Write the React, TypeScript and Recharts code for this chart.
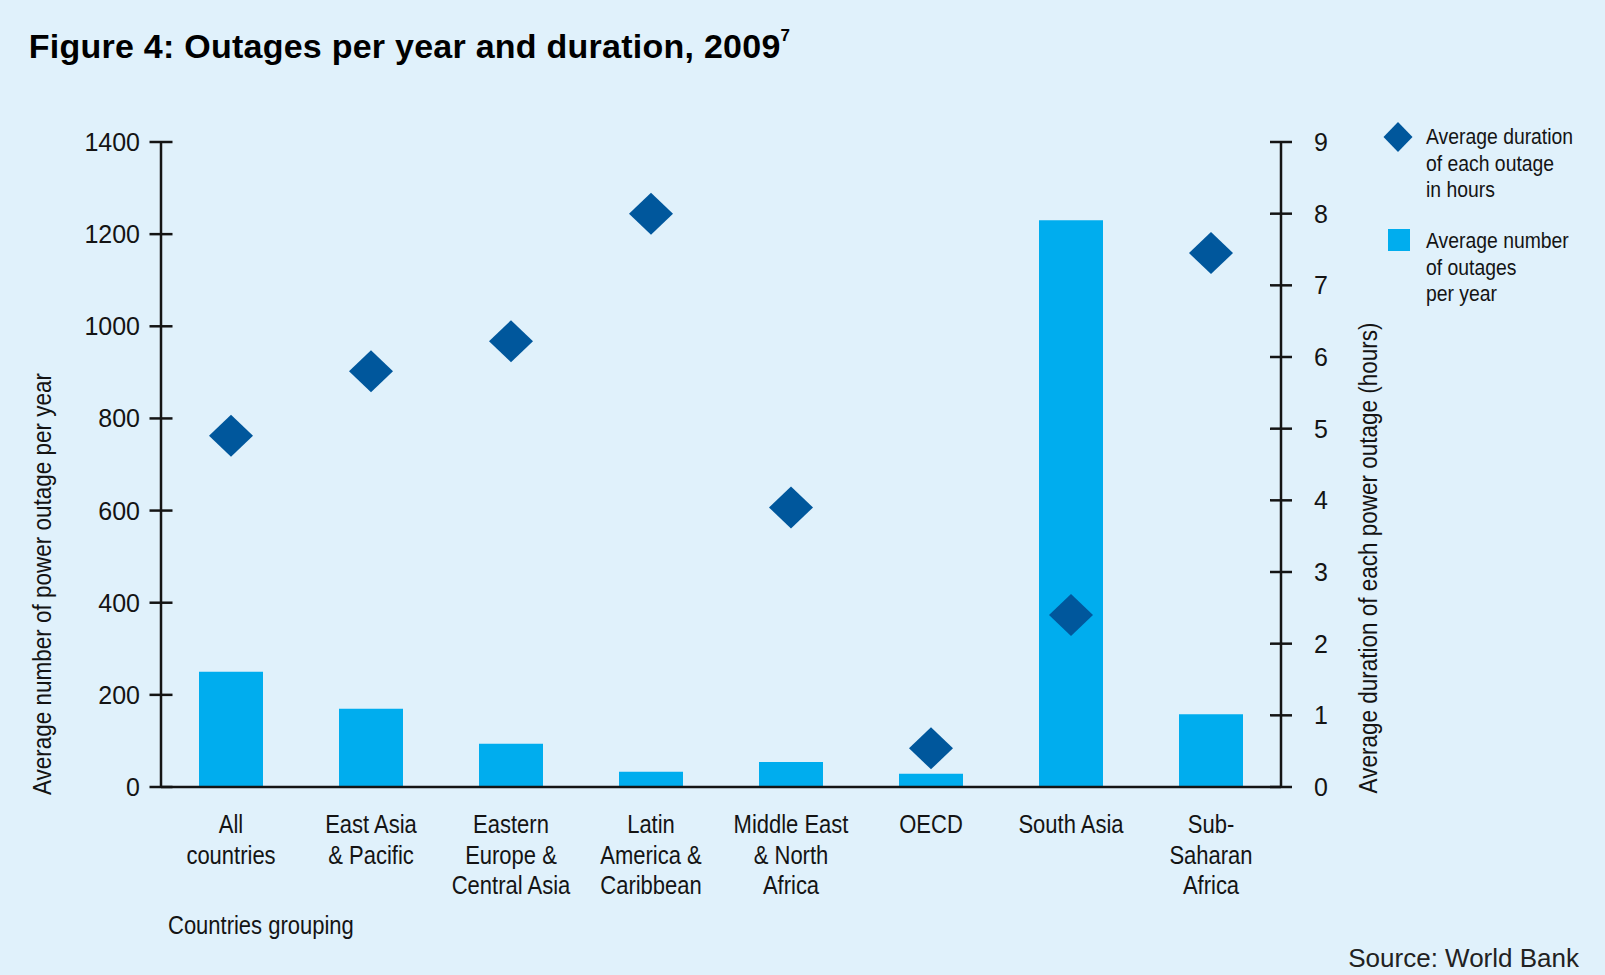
import React from 'react';
import { ComposedChart, Bar, Line, XAxis, YAxis } from 'recharts';

const categories = [
  'All\ncountries',
  'East Asia\n& Pacific',
  'Eastern\nEurope &\nCentral Asia',
  'Latin\nAmerica &\nCaribbean',
  'Middle East\n& North\nAfrica',
  'OECD',
  'South Asia',
  'Sub-\nSaharan\nAfrica',
];
const outagesPerYear = [250, 170, 94, 33, 54, 29, 1230, 158];
const durationHours = [4.9, 5.8, 6.22, 8.0, 3.9, 0.54, 2.4, 7.45];
const leftTicks = [0, 200, 400, 600, 800, 1000, 1200, 1400];
const rightTicks = [0, 1, 2, 3, 4, 5, 6, 7, 8, 9];
const legendDuration = ['Average duration', 'of each outage', 'in hours'];
const legendNumber = ['Average number', 'of outages', 'per year'];

const data = categories.map((c, i) => ({
  category: c,
  outages: outagesPerYear[i],
  duration: durationHours[i],
}));

const BG = '#E0F1FB';
const BAR = '#00ADEE';
const DIAMOND = '#00579C';
const INK = '#141414';
const FONT = "'Liberation Sans', Arial, Helvetica, sans-serif";

const NarrowText = ({ x, y, size, scale = 0.88, anchor = 'start', rotate = 0, children }: any) => (
  <text
    transform={`translate(${x},${y})${rotate ? ` rotate(${rotate})` : ''} scale(${scale},1)`}
    textAnchor={anchor}
    fontSize={size}
    fontFamily={FONT}
    fill={INK}
  >
    {children}
  </text>
);

const LeftTick = (props: any) => {
  const { x, y, payload } = props;
  return (
    <g>
      <line x1={x - 11.5} x2={x + 11.5} y1={y} y2={y} stroke={INK} strokeWidth={2.5} />
      <text x={x - 21} y={y} dy="0.36em" textAnchor="end" fontSize={25} fontFamily={FONT} fill={INK}>
        {payload.value}
      </text>
    </g>
  );
};

const RightTick = (props: any) => {
  const { x, y, payload } = props;
  return (
    <g>
      <line x1={x - 11} x2={x + 11} y1={y} y2={y} stroke={INK} strokeWidth={2.5} />
      <text x={x + 33} y={y} dy="0.36em" textAnchor="start" fontSize={25} fontFamily={FONT} fill={INK}>
        {payload.value}
      </text>
    </g>
  );
};

const CatTick = (props: any) => {
  const { x, y, payload } = props;
  const lines = String(payload.value).split('\n');
  return (
    <g>
      {lines.map((l, i) => (
        <NarrowText key={i} x={x} y={y + 46 + i * 30.7} size={25} anchor="middle">
          {l}
        </NarrowText>
      ))}
    </g>
  );
};

const Diamond = (props: any) => {
  const { cx, cy, index } = props;
  if (cx == null || cy == null) return <g key={`d-${index}`} />;
  const w = 22;
  const h = 21;
  return (
    <polygon
      key={`d-${index}`}
      points={`${cx},${cy - h} ${cx + w},${cy} ${cx},${cy + h} ${cx - w},${cy}`}
      fill={DIAMOND}
    />
  );
};

export default function App() {
  return (
    <div style={{ position: 'absolute', left: 0, top: 0, width: 1605, height: 975, background: BG, overflow: 'hidden' }}>
      <ComposedChart
        width={1605}
        height={975}
        data={data}
        margin={{ top: 142, right: 0, bottom: 128, left: 0 }}
        barCategoryGap={0}
      >
        <XAxis
          dataKey="category"
          interval={0}
          height={60}
          tickSize={0}
          tickMargin={0}
          tickLine={false}
          axisLine={{ stroke: INK, strokeWidth: 2.5 }}
          tick={<CatTick />}
        />
        <YAxis
          yAxisId="left"
          orientation="left"
          width={161}
          domain={[0, 1400]}
          ticks={leftTicks}
          interval={0}
          tickSize={0}
          tickMargin={0}
          tickLine={false}
          axisLine={{ stroke: INK, strokeWidth: 2.5 }}
          tick={<LeftTick />}
        />
        <YAxis
          yAxisId="right"
          orientation="right"
          width={324}
          domain={[0, 9]}
          ticks={rightTicks}
          interval={0}
          tickSize={0}
          tickMargin={0}
          tickLine={false}
          axisLine={{ stroke: INK, strokeWidth: 2.5 }}
          tick={<RightTick />}
        />
        <Bar yAxisId="left" dataKey="outages" fill={BAR} barSize={64} isAnimationActive={false} />
        <Line
          yAxisId="right"
          dataKey="duration"
          stroke="none"
          strokeWidth={0}
          dot={Diamond}
          activeDot={false}
          isAnimationActive={false}
        />
      </ComposedChart>
      <svg
        width={1605}
        height={975}
        style={{ position: 'absolute', left: 0, top: 0, pointerEvents: 'none' }}
      >
        <text x={28.7} y={58} fontSize={34} fontWeight="bold" fontFamily={FONT} fill="#000" letterSpacing={0.25}>
          Figure 4: Outages per year and duration, 2009
          <tspan fontSize={17} dy={-17}>7</tspan>
        </text>
        <NarrowText x={51} y={584} size={25} scale={0.9} anchor="middle" rotate={-90}>
          Average number of power outage per year
        </NarrowText>
        <NarrowText x={1377} y={558} size={25} scale={0.9} anchor="middle" rotate={-90}>
          Average duration of each power outage (hours)
        </NarrowText>
        <polygon points="1398,122 1412.5,137 1398,152 1383.5,137" fill={DIAMOND} />
        {legendDuration.map((t, i) => (
          <NarrowText key={`ld${i}`} x={1426} y={144 + i * 26.5} size={22}>
            {t}
          </NarrowText>
        ))}
        <rect x={1388} y={229} width={22} height={22} fill={BAR} />
        {legendNumber.map((t, i) => (
          <NarrowText key={`ln${i}`} x={1426} y={248 + i * 26.5} size={22}>
            {t}
          </NarrowText>
        ))}
        <NarrowText x={168} y={934} size={25}>
          Countries grouping
        </NarrowText>
        <text x={1579} y={967} textAnchor="end" fontSize={26} fontFamily={FONT} fill="#222">
          Source: World Bank
        </text>
      </svg>
    </div>
  );
}
